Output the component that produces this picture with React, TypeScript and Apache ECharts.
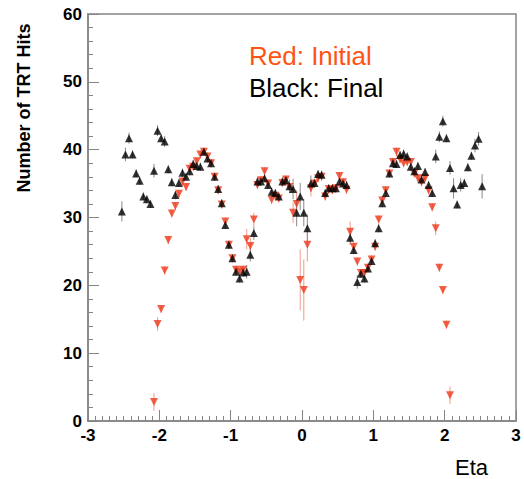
import { useEffect, useRef } from "react";
import * as echarts from "echarts";

// Histogram binning (eta bins of width 0.05 starting at -2.55)
const etaMin = -2.55;
const binWidth = 0.05;

// Black: Final (bins 0..101)
const finalHits = [
  30.9, 39.3, 41.7, 39.3, 36.5, 35.4, 33.1, 32.7, 32.0, 36.9,
  42.8, 41.7, 41.2, 37.1, 35.2, 33.3, 35.1, 36.6, 36.0, 36.8,
  37.9, 37.6, 37.5, 39.7, 38.7, 38.0, 36.0, 34.2, 32.1, 28.9,
  26.0, 24.0, 22.0, 21.0, 21.9, 22.0, 24.5, 27.7, 35.3, 35.3,
  35.8, 34.8, 33.8, 33.6, 33.1, 35.3, 35.5, 34.6, 34.2, 30.7,
  33.1, 30.7, 28.4, 35.0, 35.1, 36.4, 36.3, 33.6, 34.3, 34.3,
  34.3, 35.3, 35.0, 34.8, 27.0, 25.2, 20.5, 21.7, 21.0, 22.5,
  23.6, 26.2, 28.4, 32.1, 33.6, 36.5, 38.0, 37.9, 39.2, 39.4,
  39.0, 37.5, 36.8, 37.6, 35.6, 36.7, 34.8, 33.6, 39.0, 41.9,
  44.2, 41.7, 37.3, 34.3, 31.9, 34.8, 35.1, 37.4, 39.1, 40.6,
  41.6, 34.6,
];
const finalErr = [
  1.5, 1.0, 0.8, 0.6, 0.6, 0.6, 0.6, 0.6, 0.6, 1.0,
  0.8, 0.6, 0.8, 0.6, 0.6, 0.6, 0.6, 0.6, 0.6, 0.6,
  0.6, 0.6, 0.6, 0.6, 0.6, 0.6, 0.6, 0.6, 0.6, 0.6,
  0.6, 0.6, 0.6, 0.6, 0.6, 1.0, 1.0, 1.0, 0.6, 0.6,
  0.6, 0.6, 0.6, 0.6, 0.6, 0.6, 0.6, 1.0, 1.5, 2.0,
  2.0, 2.0, 2.0, 1.2, 0.6, 0.6, 0.6, 0.6, 0.6, 0.6,
  0.6, 0.6, 0.6, 0.6, 1.0, 0.6, 1.0, 0.6, 0.6, 0.6,
  0.6, 0.6, 0.6, 0.6, 0.6, 0.6, 0.6, 0.6, 0.6, 0.6,
  0.6, 0.6, 0.6, 0.6, 0.6, 0.6, 0.6, 0.6, 1.0, 0.8,
  0.8, 0.6, 1.0, 1.5, 0.6, 1.0, 0.6, 0.6, 0.6, 1.0,
  1.0, 1.8,
];

// Red: Initial (bins 9..92)
const initialFirstBin = 9;
const initialHits = [
  2.8, 14.3, 16.5, 22.2, 26.7, 30.6, 31.7, 33.5, 35.3, 34.5,
  37.2, 37.5, 38.3, 39.3, 39.7, 39.0, 38.0, 36.0, 34.0, 31.9,
  29.4, 26.0, 24.0, 22.3, 22.0, 22.3, 26.8, 25.8, 29.7, 34.8,
  35.5, 36.8, 35.0, 32.6, 33.2, 32.8, 35.1, 35.6, 34.5, 30.7,
  32.0, 20.8, 19.3, 26.0, 34.3, 35.0, 35.8, 36.0, 33.1, 34.2,
  34.0, 34.3, 36.1, 35.2, 34.1, 27.9, 25.7, 23.5, 21.8, 21.8,
  22.6, 23.8, 25.7, 29.7, 32.5, 34.0, 36.5, 38.2, 39.7, 38.6,
  38.0, 38.2, 38.2, 36.5, 35.8, 35.2, 35.8, 34.0, 31.5, 28.4,
  22.6, 19.3, 14.2, 3.8,
];
const initialErr = [
  1.3, 1.0, 0.6, 0.6, 0.6, 0.6, 0.6, 0.6, 0.6, 0.6,
  0.6, 0.6, 0.6, 0.6, 0.6, 0.6, 0.6, 0.6, 0.6, 0.6,
  0.6, 0.6, 0.6, 0.6, 0.6, 0.6, 1.5, 1.2, 1.0, 0.6,
  0.6, 0.6, 0.6, 0.6, 0.6, 0.6, 0.6, 0.6, 0.6, 1.5,
  2.0, 4.5, 4.5, 2.5, 1.2, 0.6, 0.6, 0.6, 0.6, 0.6,
  0.6, 0.6, 0.6, 0.6, 0.6, 1.5, 0.6, 0.6, 0.6, 0.6,
  0.6, 0.6, 0.6, 0.6, 0.6, 0.6, 0.6, 0.6, 0.6, 0.6,
  0.6, 0.6, 0.6, 0.6, 0.6, 0.6, 0.6, 0.6, 0.6, 1.0,
  0.6, 0.6, 0.6, 1.3,
];

const xTitle = "Eta";
const yTitle = "Number of TRT Hits";
const legendRed = "Red: Initial";
const legendBlack = "Black: Final";

const FONT = "Liberation Sans, Arial, Helvetica, sans-serif";
const RED = "#ee3a1c";
const RED_TEXT = "#ff5314";
const FRAME = "#858585";

export default function App() {
  const ref = useRef<HTMLDivElement>(null);

  useEffect(() => {
    const chart = echarts.init(ref.current!, null, { renderer: "svg" });
    const center = (i: number) => +(etaMin + binWidth * (i + 0.5)).toFixed(3);
    const blackPts = finalHits.map((v, i) => [center(i), v, finalErr[i]]);
    const redPts = initialHits.map((v, i) => [center(i + initialFirstBin), v, initialErr[i]]);

    const errSeries = (data: number[][], color: string, z: number) => ({
      type: "custom",
      data,
      z,
      silent: true,
      encode: { x: 0, y: 1 },
      renderItem: (_p: any, api: any) => {
        const x = api.value(0);
        const y = api.value(1);
        const e = api.value(2);
        const a = api.coord([x, y - e]);
        const b = api.coord([x, y + e]);
        return {
          type: "line",
          shape: { x1: a[0], y1: a[1], x2: b[0], y2: b[1] },
          style: { stroke: color, lineWidth: 1 },
        };
      },
    });

    const axisCommon = {
      axisLine: { show: true, onZero: false, lineStyle: { color: FRAME, width: 1.5 } },
      axisTick: { show: true, inside: true, length: 11, lineStyle: { color: FRAME, width: 1 } },
      minorTick: { show: true, length: 5, lineStyle: { color: FRAME, width: 1 } },
      splitLine: { show: false },
      minorSplitLine: { show: false },
      axisLabel: { color: "#000", fontFamily: FONT, fontWeight: "bold", fontSize: 17, margin: 6 },
    };

    chart.setOption({
      animation: false,
      backgroundColor: "#fff",
      grid: {
        left: 88,
        right: 8,
        top: 14,
        bottom: 58,
        show: true,
        borderColor: FRAME,
        borderWidth: 1.5,
        backgroundColor: "transparent",
      },
      xAxis: {
        type: "value",
        min: -3,
        max: 3,
        interval: 1,
        ...axisCommon,
        minorTick: { ...axisCommon.minorTick, splitNumber: 10 },
      },
      yAxis: {
        type: "value",
        min: 0,
        max: 60,
        interval: 10,
        ...axisCommon,
        minorTick: { ...axisCommon.minorTick, splitNumber: 5 },
      },
      series: [
        errSeries(redPts, "#f39a8c", 1),
        errSeries(blackPts, "#8a8a8a", 1),
        {
          type: "scatter",
          name: "Initial",
          data: redPts.map((p) => [p[0], p[1]]),
          symbol: "triangle",
          symbolRotate: 180,
          symbolSize: 8,
          itemStyle: { color: RED },
          z: 2,
        },
        {
          type: "scatter",
          name: "Final",
          data: blackPts.map((p) => [p[0], p[1]]),
          symbol: "triangle",
          symbolSize: 8,
          itemStyle: { color: "#000" },
          z: 3,
        },
      ],
      graphic: [
        {
          type: "text",
          x: 249,
          y: 56,
          style: {
            text: legendRed,
            fill: RED_TEXT,
            font: `26px ${FONT}`,
            textAlign: "left",
            textVerticalAlign: "middle",
          },
        },
        {
          type: "text",
          x: 249,
          y: 88,
          style: {
            text: legendBlack,
            fill: "#000",
            font: `26px ${FONT}`,
            textAlign: "left",
            textVerticalAlign: "middle",
          },
        },
        {
          type: "text",
          x: 455,
          y: 467,
          style: {
            text: xTitle,
            fill: "#000",
            font: `22px ${FONT}`,
            textAlign: "left",
            textVerticalAlign: "middle",
          },
        },
        {
          type: "text",
          x: 24,
          y: 108,
          rotation: Math.PI / 2,
          style: {
            text: yTitle,
            fill: "#000",
            font: `bold 18px ${FONT}`,
            textAlign: "center",
            textVerticalAlign: "middle",
          },
        },
      ],
    });

    return () => chart.dispose();
  }, []);

  return (
    <div
      ref={ref}
      style={{ position: "absolute", left: 0, top: 0, width: 524, height: 479 }}
    />
  );
}
